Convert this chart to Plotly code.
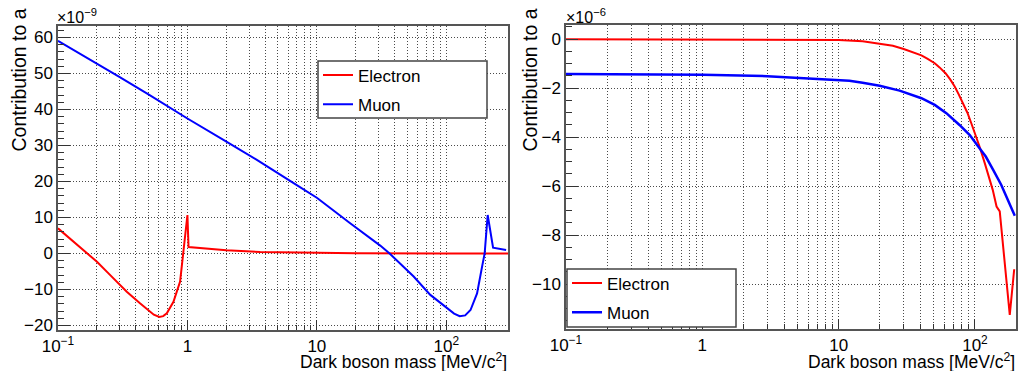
import math
import plotly.graph_objects as go

# ---------------- data ----------------
# Left panel: units of 1e-9
left_e_mass = [0.1, 0.13, 0.169, 0.2, 0.25, 0.3, 0.34, 0.43, 0.5, 0.55, 0.607, 0.65, 0.693, 0.78, 0.878,
               0.93, 0.96, 1.0, 1.02, 1.5, 2.0, 3.65, 7.0, 20, 100, 300]
left_e_val = [7.0, 3.5, 0.0, -2.3, -5.8, -8.7, -10.6, -13.8, -15.9, -17.0, -17.6, -17.4, -16.6, -13.4, -7.8,
              0.0, 4.5, 10.7, 1.8, 1.3, 0.9, 0.4, 0.2, 0.05, 0.0, 0.0]

left_mu_mass = [0.1, 0.2, 0.3, 0.5, 0.88, 1.0, 2.0, 3.44, 7.0, 10, 18.1, 30.9, 36.5, 56, 75.3, 101,
                115, 127, 140, 154, 173, 189, 198, 209, 230, 290]
left_mu_val = [59.1, 52.8, 49.0, 44.2, 38.7, 37.5, 31.1, 26.0, 19.0, 15.5, 8.4, 2.2, 0.0, -6.4, -11.5, -15.2,
               -16.7, -17.4, -17.2, -15.7, -11.1, -3.7, 0.0, 10.7, 1.6, 1.0]

# Right panel: units of 1e-6
right_e_mass = [0.1, 1, 5, 10, 15, 20, 25, 30, 35, 40.5, 45, 50.7, 55, 60.8, 66, 71, 76, 81.8, 88, 94,
                101, 108, 118, 125, 135, 144, 152, 180, 194]
right_e_val = [0.0, 0.0, -0.01, -0.03, -0.08, -0.17, -0.27, -0.40, -0.52, -0.66, -0.80, -0.98, -1.15,
               -1.39, -1.65, -1.93, -2.25, -2.61, -3.0, -3.43, -3.9, -4.38, -5.06, -5.5, -6.15, -6.83,
               -7.03, -11.25, -9.39]

right_mu_mass = [0.1, 0.3, 1, 3, 8.5, 12, 15, 20, 28, 40.5, 50.7, 61.7, 77, 91.6, 108, 120, 136, 156, 196]
right_mu_val = [-1.42, -1.43, -1.45, -1.51, -1.63, -1.70, -1.78, -1.90, -2.10, -2.41, -2.68, -3.02, -3.5,
                -3.91, -4.45, -4.79, -5.33, -5.95, -7.21]

series_names = ["Electron", "Muon"]
x_tick_vals = [0.1, 1, 10, 100]
x_tick_text = ["10<sup>−1</sup>", "1", "10", "10<sup>2</sup>"]
x_title = "Dark boson mass [MeV/c<sup>2</sup>]"
y_title = "Contribution to a"
left_exp = "×10<sup>−9</sup>"
right_exp = "×10<sup>−6</sup>"

# ---------------- layout helpers ----------------
W, H = 1024, 371
FONT = "Liberation Sans, Arial, Helvetica, sans-serif"
RED, BLUE = "#ff0000", "#0000ff"
GRID = "#4a4a4a"
FRAME = "#555555"


def px(x):
    return x / W


def py(y):
    return 1 - y / H


def minor_vals(xmax):
    vals = []
    for d in [0.1, 1, 10, 100]:
        for k in range(2, 10):
            v = k * d
            if v <= xmax:
                vals.append(v)
    return vals


def xaxis_cfg(dom, xmax, anchor):
    return dict(
        type="log", range=[-1, math.log10(xmax)], domain=dom, anchor=anchor,
        tickvals=x_tick_vals, ticktext=x_tick_text,
        ticks="inside", ticklen=10, tickwidth=1, tickcolor="#333",
        showgrid=True, gridcolor=GRID, gridwidth=1, griddash="1px,2px",
        minor=dict(tickvals=minor_vals(xmax), ticks="inside", ticklen=5, tickcolor="#333",
                   showgrid=True, gridcolor=GRID, gridwidth=1, griddash="1px,2px"),
        showline=True, mirror=True, linecolor=FRAME, linewidth=1.5,
        zeroline=False, tickfont=dict(family=FONT, size=17, color="black"),
        automargin=False,
    )


def yaxis_cfg(dom, rng, dtick, mdtick, anchor):
    return dict(
        range=rng, domain=dom, anchor=anchor, dtick=dtick, tick0=0,
        ticks="inside", ticklen=12, tickwidth=1, tickcolor="#333",
        showgrid=True, gridcolor=GRID, gridwidth=1, griddash="1px,2px",
        minor=dict(dtick=mdtick, tick0=0, ticks="inside", ticklen=6, tickcolor="#333", showgrid=False),
        showline=True, mirror=True, linecolor=FRAME, linewidth=1.5,
        zeroline=False, tickfont=dict(family=FONT, size=17, color="black"),
        automargin=False,
    )


fig = go.Figure()

fig.add_trace(go.Scatter(x=left_e_mass, y=left_e_val, mode="lines", name=series_names[0],
                         line=dict(color=RED, width=2), xaxis="x", yaxis="y",
                         legend="legend", legendgroup="e1"))
fig.add_trace(go.Scatter(x=left_mu_mass, y=left_mu_val, mode="lines", name=series_names[1],
                         line=dict(color=BLUE, width=2), xaxis="x", yaxis="y",
                         legend="legend", legendgroup="m1"))
fig.add_trace(go.Scatter(x=right_e_mass, y=right_e_val, mode="lines", name=series_names[0],
                         line=dict(color=RED, width=2), xaxis="x2", yaxis="y2",
                         legend="legend2", legendgroup="e2"))
fig.add_trace(go.Scatter(x=right_mu_mass, y=right_mu_val, mode="lines", name=series_names[1],
                         line=dict(color=BLUE, width=2.5), xaxis="x2", yaxis="y2",
                         legend="legend2", legendgroup="m2"))

left_xdom = [px(58), px(508)]
right_xdom = [px(566), px(1016)]
left_ydom = [py(330), py(26)]
right_ydom = [py(329), py(25)]

legend_common = dict(
    bgcolor="rgba(0,0,0,0)", borderwidth=0, xanchor="left", yanchor="top",
    font=dict(family=FONT, size=17, color="black"), tracegroupgap=4,
    itemwidth=30, traceorder="grouped",
)

annotations = [
    dict(text=y_title, x=px(18), y=py(7), xref="paper", yref="paper", xanchor="center", yanchor="top",
         textangle=-90, showarrow=False, font=dict(family=FONT, size=19.5, color="black")),
    dict(text=y_title, x=px(529), y=py(7), xref="paper", yref="paper", xanchor="center", yanchor="top",
         textangle=-90, showarrow=False, font=dict(family=FONT, size=19.5, color="black")),
    dict(text=x_title, x=px(509), y=py(361), xref="paper", yref="paper", xanchor="right", yanchor="middle",
         showarrow=False, font=dict(family=FONT, size=17.5, color="black")),
    dict(text=x_title, x=px(1017), y=py(361), xref="paper", yref="paper", xanchor="right", yanchor="middle",
         showarrow=False, font=dict(family=FONT, size=17.5, color="black")),
    dict(text=left_exp, x=px(55), y=py(16), xref="paper", yref="paper", xanchor="left", yanchor="middle",
         showarrow=False, font=dict(family=FONT, size=16, color="black")),
    dict(text=right_exp, x=px(564), y=py(16), xref="paper", yref="paper", xanchor="left", yanchor="middle",
         showarrow=False, font=dict(family=FONT, size=16, color="black")),
]

shapes = [
    dict(type="rect", xref="paper", yref="paper", x0=px(318), x1=px(487), y0=py(118), y1=py(61),
         line=dict(color="#444", width=1.5), fillcolor="white", layer="above"),
    dict(type="rect", xref="paper", yref="paper", x0=px(567), x1=px(736), y0=py(327), y1=py(269),
         line=dict(color="#444", width=1.5), fillcolor="white", layer="above"),
]

fig.update_layout(
    width=W, height=H, autosize=False,
    margin=dict(l=0, r=0, t=0, b=0),
    paper_bgcolor="white", plot_bgcolor="white",
    font=dict(family=FONT, size=17, color="black"),
    xaxis=xaxis_cfg(left_xdom, 300, "y"),
    yaxis=yaxis_cfg(left_ydom, [-21.25, 63.2], 10, 2, "x"),
    xaxis2=xaxis_cfg(right_xdom, 200, "y2"),
    yaxis2=yaxis_cfg(right_ydom, [-11.83, 0.58], 2, 0.5, "x2"),
    legend=dict(x=px(318), y=py(57.5), **legend_common),
    legend2=dict(x=px(567), y=py(265.5), **legend_common),
    annotations=annotations,
    shapes=shapes,
    showlegend=True,
)

fig.write_html(
    "out.html",
    config={"displayModeBar": False},
    post_script="document.body.style.margin='0px';document.body.style.overflow='hidden';",
)
